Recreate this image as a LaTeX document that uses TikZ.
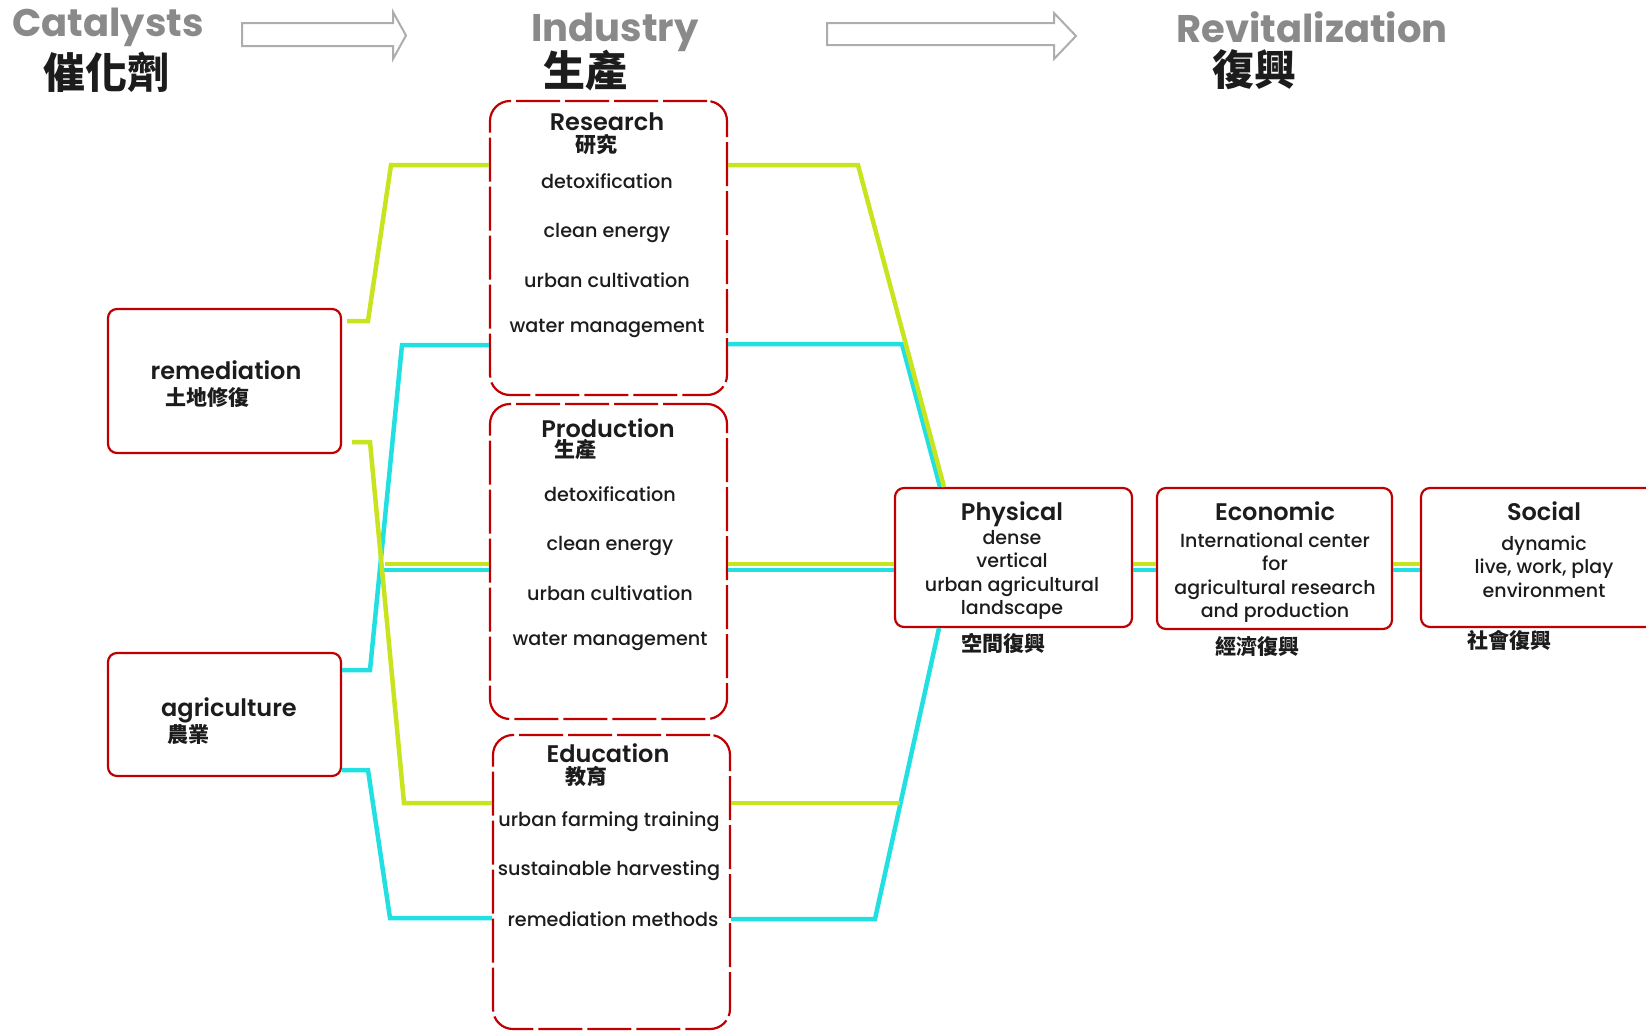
\documentclass[tikz,border=0pt]{standalone}
\usepackage{fontspec}
\setmainfont{Poppins}
\newfontfamily\itemfont{Poppins Medium}
\newfontfamily\headfont{Poppins SemiBold}
\newfontfamily\cjk{Noto Sans CJK TC}
\usetikzlibrary{positioning,calc}

\definecolor{boxred}{RGB}{192,0,0}
\definecolor{linkyellow}{RGB}{200,228,30}
\definecolor{linkcyan}{RGB}{34,224,226}
\definecolor{titlegray}{RGB}{138,138,138}
\definecolor{inkgray}{RGB}{28,28,28}

\tikzset{
    title/.style={font=\fontsize{38.5}{42}\selectfont\bfseries, text=titlegray, inner sep=0pt},
    titlezh/.style={font=\cjk\fontsize{42}{44}\selectfont\bfseries, text=inkgray, inner sep=0pt},
    blockarrow/.style={draw=titlegray!70, line width=2pt, fill=white},
    catbox/.style={rectangle, rounded corners=9pt, draw=boxred, line width=2.2pt},
    groupbox/.style={rectangle, rounded corners=20pt, draw=boxred, line width=2.2pt, dash pattern=on 44pt off 5pt},
    heading/.style={font=\headfont\fontsize{24}{26}\selectfont, text=inkgray, inner sep=0pt},
    headzh/.style={font=\cjk\fontsize{21}{22}\selectfont\bfseries, text=inkgray, inner sep=0pt},
    item/.style={font=\itemfont\fontsize{19.2}{23.5}\selectfont, text=inkgray, inner sep=0pt, text height=14pt, text depth=4pt},
    boxtext/.style={font=\itemfont\fontsize{19}{23.5}\selectfont, text=inkgray, inner sep=0pt, align=center},
    ylink/.style={draw=linkyellow, line width=4.5pt},
    clink/.style={draw=linkcyan, line width=4.5pt}
}

\begin{document}
\begin{tikzpicture}[x=1pt, y=-1pt, node distance=49.5pt]
    \useasboundingbox (0,0) rectangle (1646,1031);
    \clip (0,0) rectangle (1646,1031);

    % titles
    \node (cattitle) [title] at (108,27.5) {Catalysts};
    \node (catzh) [titlezh] at (106,72) {催化劑};
    \node (indtitle) [title] at (615,32) {Industry};
    \node (indzh) [titlezh] at (585,71) {生產};
    \node (revtitle) [title] at (1312,27.5) {Revitalization};
    \node (revzh) [titlezh] at (1254,70) {復興};

    \draw [blockarrow] (242,23) -- (393,23) -- (393,12) -- (406,35.5) -- (393,59) -- (393,46) -- (242,46) -- cycle;
    \draw [blockarrow] (827,23) -- (1054,23) -- (1054,13) -- (1076,36) -- (1054,59) -- (1054,45) -- (827,45) -- cycle;

    % boxes
    \node (remed) [catbox, minimum width=233pt, minimum height=144pt] at (224.5,381) {};
    \node (agri) [catbox, minimum width=233pt, minimum height=123pt] at (224.5,714.5) {};
    \node (research) [groupbox, minimum width=237pt, minimum height=294pt] at (608.5,248) {};
    \node (production) [groupbox, minimum width=237pt, minimum height=315pt] at (608.5,561.5) {};
    \node (education) [groupbox, minimum width=237pt, minimum height=294pt] at (611.5,882) {};
    \node (physical) [catbox, minimum width=237pt, minimum height=139pt] at (1013.5,557.5) {};
    \node (economic) [catbox, minimum width=235pt, minimum height=141pt] at (1274.5,558.5) {};
    \node (social) [catbox, minimum width=246pt, minimum height=139pt] at (1544,557.5) {};

    % box texts
    \node (remedhead) [heading] at (226,370) {remediation};
    \node (remedzh) [headzh] at (207.5,397.5) {土地修復};
    \node (agrihead) [heading] at (229,710.5) {agriculture};
    \node (agrizh) [headzh] at (188,735) {農業};

    \node (reshead) [heading] at (607,122) {Research};
    \node (reszh) [headzh] at (596,145) {研究};
    \node (res1) [item] at (607,183) {detoxification};
    \node (res2) [item, below of=res1] {clean energy};
    \node (res3) [item, below of=res2] {urban cultivation};
    \node (res4) [item, below of=res3, yshift=4pt] {water management};

    \node (prodhead) [heading] at (608,428) {Production};
    \node (prodzh) [headzh] at (575,450) {生產};
    \node (prod1) [item] at (610,496) {detoxification};
    \node (prod2) [item, below of=prod1] {clean energy};
    \node (prod3) [item, below of=prod2] {urban cultivation};
    \node (prod4) [item, below of=prod3, yshift=4.5pt] {water management};

    \node (eduhead) [heading] at (608,753.5) {Education};
    \node (eduzh) [headzh] at (586,777) {教育};
    \node (edu1) [item] at (609,821) {urban farming training};
    \node (edu2) [item, below of=edu1] {sustainable harvesting};
    \node (edu3) [item, below of=edu2, xshift=4pt, yshift=-1.5pt] {remediation methods};

    \node (physhead) [heading] at (1012,514.5) {Physical};
    \node (phystext) [boxtext] at (1012,575) {dense\\vertical\\urban agricultural\\landscape};
    \node (physzh) [headzh] at (1003,643) {空間復興};
    \node (econhead) [heading] at (1275,511.5) {Economic};
    \node (econtext) [boxtext] at (1275,577.5) {International center\\for\\agricultural research\\and production};
    \node (econzh) [headzh] at (1257,647) {經濟復興};
    \node (sochead) [heading] at (1544,511.5) {Social};
    \node (soctext) [boxtext] at (1544,566.5) {dynamic\\live, work, play\\environment};
    \node (soczh) [headzh] at (1509,640) {社會復興};

    % links, cyan
    \coordinate (cr1) at (370,670);
    \coordinate (cr2) at (402,345);
    \draw [clink] (agri.east |- cr1) -- (cr1) -- (cr2) -- (cr2 -| research.west);
    \coordinate (ce1) at (368,770);
    \coordinate (ce2) at (390,918);
    \draw [clink] (agri.east |- ce1) -- (ce1) -- (ce2) -- (ce2 -| education.west);
    \coordinate (cp) at (383,570);
    \draw [clink] (cp) -- (cp -| production.west);
    \coordinate (cq1) at (902,344);
    \coordinate (cq2) at (940,487);
    \draw [clink] (cq1 -| research.east) -- (cq1) -- (cq2 |- physical.north);
    \draw [clink] (cp -| production.east) -- (cp -| physical.west);
    \draw [clink] (cp -| physical.east) -- (cp -| economic.west);
    \draw [clink] (cp -| economic.east) -- (cp -| social.west);
    \coordinate (cb1) at (875,919);
    \coordinate (cb2) at (939,627);
    \draw [clink] (cb1 -| education.east) -- (cb1) -- (cb2 |- physical.south);

    % links, yellow
    \coordinate (yr1) at (368,321);
    \coordinate (yr2) at (391,165);
    \draw [ylink] ($(remed.east |- yr1)+(5,0)$) -- (yr1) -- (yr2) -- (yr2 -| research.west);
    \coordinate (ye1) at (370,442);
    \coordinate (ye2) at (404,803);
    \draw [ylink] ($(remed.east |- ye1)+(10,0)$) -- (ye1) -- (ye2) -- (ye2 -| education.west);
    \coordinate (yp) at (385,564);
    \draw [ylink] (yp) -- (yp -| production.west);
    \coordinate (yq1) at (858,165);
    \coordinate (yq2) at (944,487);
    \draw [ylink] (yq1 -| research.east) -- (yq1) -- (yq2 |- physical.north);
    \draw [ylink] (yp -| production.east) -- (yp -| physical.west);
    \draw [ylink] (yp -| physical.east) -- (yp -| economic.west);
    \draw [ylink] (yp -| economic.east) -- (yp -| social.west);
    \coordinate (yb) at (900,803);
    \draw [ylink] (yb -| education.east) -- (yb);
\end{tikzpicture}
\end{document}
